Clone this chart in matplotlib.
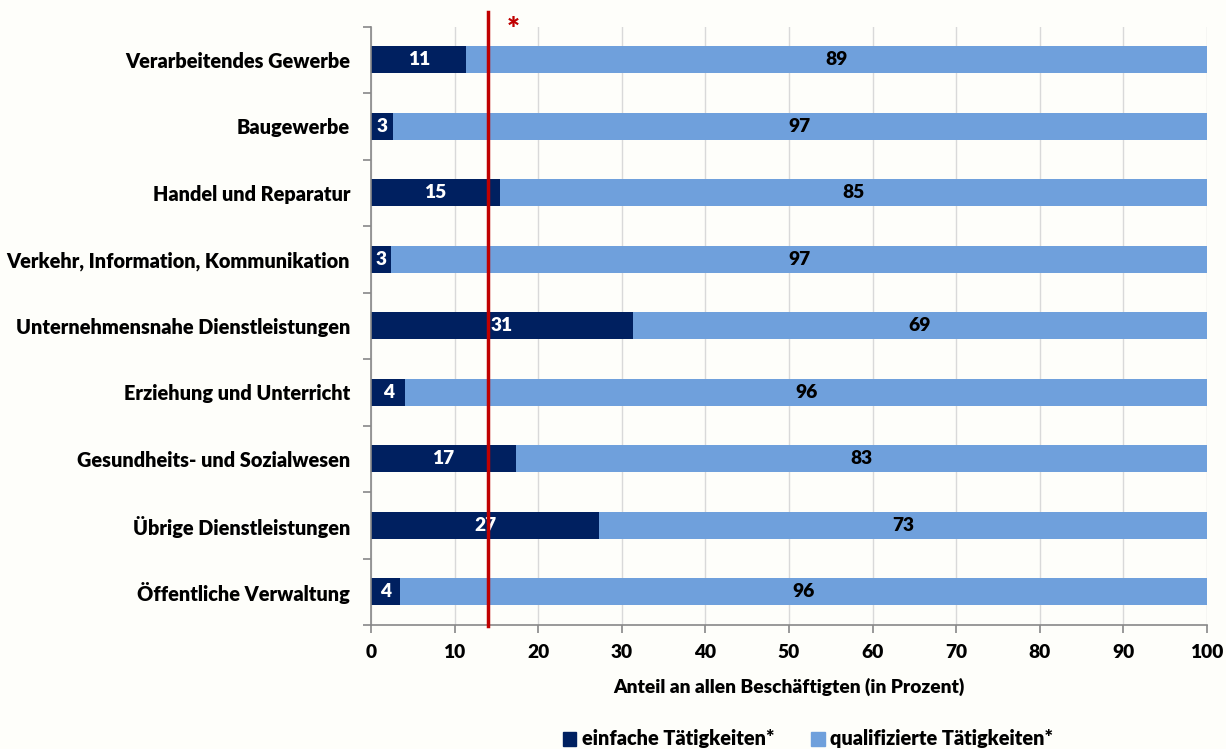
import matplotlib
matplotlib.use("Agg")
import matplotlib.pyplot as plt
import numpy as np
from matplotlib.patches import Patch

categories = ["Verarbeitendes Gewerbe", "Baugewerbe", "Handel und Reparatur",
              "Verkehr, Information, Kommunikation", "Unternehmensnahe Dienstleistungen",
              "Erziehung und Unterricht", "Gesundheits- und Sozialwesen",
              "Übrige Dienstleistungen", "Öffentliche Verwaltung"]
einfach = [11.4, 2.6, 15.4, 2.4, 31.3, 4.1, 17.3, 27.3, 3.5]
qualifiziert = [100 - v for v in einfach]
einfach_labels = ["11", "3", "15", "3", "31", "4", "17", "27", "4"]
qual_labels = ["89", "97", "85", "97", "69", "96", "83", "73", "96"]
ref_line = 14
xticks = [0, 10, 20, 30, 40, 50, 60, 70, 80, 90, 100]

plt.rcParams['font.family'] = ['Lato', 'DejaVu Sans']
plt.rcParams['font.weight'] = 'heavy'

dark = '#002060'
light = '#6FA0DC'
bg = '#FEFEFA'
FS = 13.8

fig = plt.figure(figsize=(12.26, 7.49), dpi=100, facecolor=bg)
ax = fig.add_axes([371/1226, 1-625/749, (1207-371)/1226, (625-26.5)/749])
ax.set_facecolor(bg)

n = len(categories)
y = np.arange(n)
ax.barh(y, einfach, height=0.41, color=dark, zorder=2)
ax.barh(y, qualifiziert, left=einfach, height=0.41, color=light, zorder=2)

for i in range(n):
    ax.text(einfach[i]/2, y[i], einfach_labels[i], ha='center', va='center',
            color='white', fontsize=FS, fontweight='heavy', zorder=4)
    ax.text(einfach[i] + qualifiziert[i]/2, y[i], qual_labels[i], ha='center', va='center',
            color='black', fontsize=FS, fontweight='heavy', zorder=4)

ax.set_ylim(n - 0.5, -0.5)
ax.set_xlim(0, 100)
ax.set_yticks(y)
ax.set_yticklabels(categories, fontsize=14.3, fontweight='heavy')
ax.set_yticks(np.arange(-0.5, n, 1), minor=True)
ax.tick_params(axis='y', which='major', length=0, pad=15)
ax.tick_params(axis='y', which='minor', length=6, color='#888888', width=1.2)
ax.set_xticks(xticks)
ax.set_xticklabels([str(t) for t in xticks], fontsize=FS, fontweight='heavy')
ax.tick_params(axis='x', length=6, color='#888888', width=1.2, pad=8)
ax.xaxis.grid(True, color='#D9D9D9', linewidth=1, zorder=0)
ax.set_axisbelow(True)
for s in ['top', 'right']:
    ax.spines[s].set_visible(False)
for s in ['left', 'bottom']:
    ax.spines[s].set_color('#888888')
    ax.spines[s].set_linewidth(1.2)

ax.set_xlabel("Anteil an allen Beschäftigten (in Prozent)", fontsize=FS, fontweight='heavy', labelpad=12)

ax.plot([ref_line, ref_line], [n - 0.5 + 0.02, -0.5 - 0.22], color='#C00000', linewidth=2.5,
        zorder=5, clip_on=False)
ax.text(ref_line + 3, -0.5 + 0.06, "*", color='#C00000', fontsize=22, fontweight='heavy',
        ha='center', va='center', clip_on=False)

handles = [Patch(color=dark, label="einfache Tätigkeiten*"),
           Patch(color=light, label="qualifizierte Tätigkeiten*")]
fig.legend(handles=handles, loc='center', bbox_to_anchor=(808/1226, 1-739/749), ncol=2,
           frameon=False, prop={'size': 14.3, 'weight': 'heavy'}, handlelength=0.7,
           handleheight=0.7, handletextpad=0.3, columnspacing=1.8)

fig.savefig("out.png", dpi=100, facecolor=bg)
